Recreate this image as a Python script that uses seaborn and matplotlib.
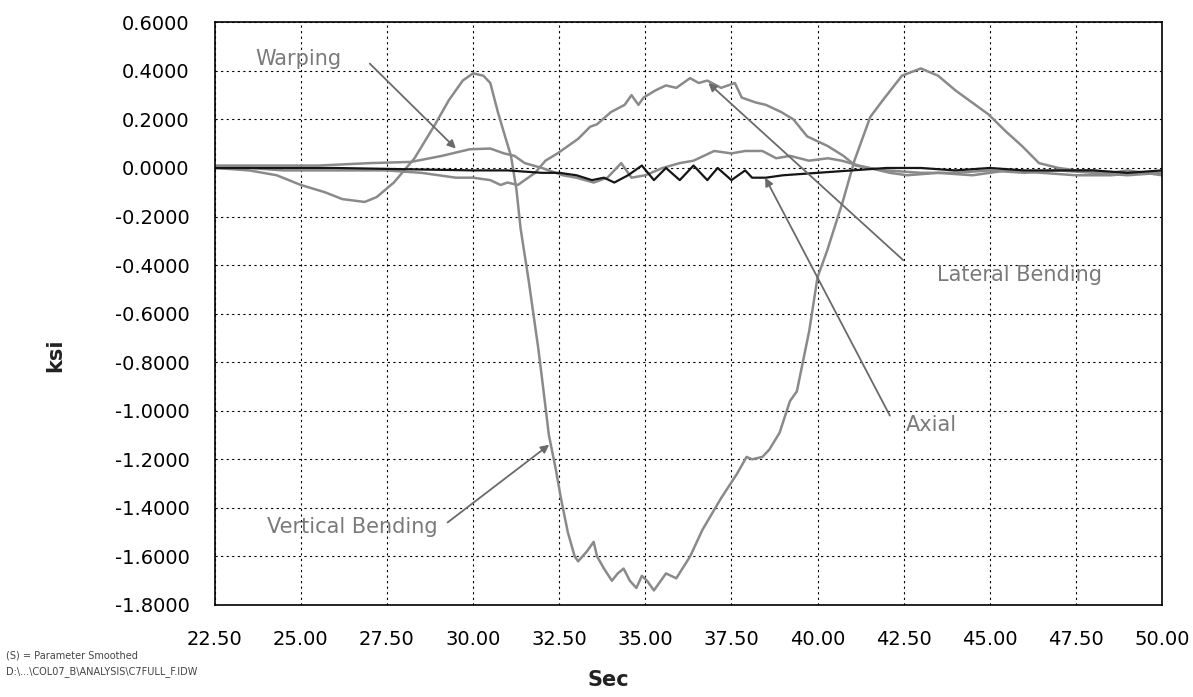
import numpy as np
import pandas as pd
import matplotlib
matplotlib.use("Agg")
import matplotlib.pyplot as plt
import seaborn as sns
from matplotlib.ticker import FormatStrFormatter, MultipleLocator

# ---------------- data ----------------
vb_x = [22.5, 23.5, 24.3, 25.0, 25.7, 26.2, 26.85, 27.2, 27.7, 28.3, 28.9, 29.3, 29.7, 30.0,
        30.3, 30.5, 30.72, 30.95, 31.1, 31.26, 31.38, 31.61, 31.89, 32.03, 32.2, 32.4, 32.55,
        32.75, 32.95, 33.05, 33.3, 33.5, 33.6, 33.8, 34.03, 34.2, 34.37, 34.55, 34.74, 34.9,
        35.05, 35.25, 35.45, 35.6, 35.9, 36.3, 36.66, 37.2, 37.66, 37.94, 38.1, 38.4, 38.6,
        38.9, 39.2, 39.4, 39.76, 40.0, 40.28, 40.73, 41.07, 41.53, 41.9, 42.45, 43.0, 43.5,
        44.0, 44.97, 45.47, 45.94, 46.43, 47.0, 47.5, 48.0, 48.5, 49.0, 49.5, 50.0]
vb_y = [0.0, -0.01, -0.03, -0.07, -0.10, -0.128, -0.14, -0.12, -0.06, 0.04, 0.18, 0.28, 0.36, 0.39,
        0.38, 0.35, 0.23, 0.12, 0.05, -0.09, -0.25, -0.46, -0.74, -0.90, -1.10, -1.24, -1.36,
        -1.50, -1.60, -1.62, -1.58, -1.54, -1.60, -1.65, -1.70, -1.67, -1.65, -1.70, -1.73, -1.68,
        -1.70, -1.74, -1.70, -1.67, -1.69, -1.60, -1.49, -1.36, -1.26, -1.19, -1.20, -1.19, -1.16,
        -1.09, -0.96, -0.92, -0.67, -0.45, -0.34, -0.14, 0.03, 0.21, 0.28, 0.38, 0.41, 0.38,
        0.32, 0.22, 0.15, 0.09, 0.02, 0.0, -0.01, -0.01, -0.02, -0.01, -0.02, -0.02]

lb_x = [22.5, 23.5, 24.5, 25.5, 26.5, 27.5, 28.5, 29.0, 29.5, 30.0, 30.5, 30.8, 31.0, 31.3, 31.5,
        31.8, 32.1, 32.45, 33.05, 33.4, 33.6, 34.0, 34.4, 34.6, 34.8, 34.95, 35.3, 35.6, 35.9,
        36.3, 36.55, 36.8, 37.2, 37.6, 37.8, 38.2, 38.5, 38.95, 39.3, 39.7, 40.3, 40.75, 41.1,
        41.5, 42.0, 43.0, 44.0, 45.0, 46.0, 47.0, 48.0, 49.0, 50.0]
lb_y = [0.0, 0.0, -0.01, -0.01, -0.01, -0.01, -0.02, -0.03, -0.04, -0.04, -0.05, -0.07, -0.06, -0.07, -0.05,
        -0.02, 0.03, 0.06, 0.12, 0.17, 0.18, 0.23, 0.26, 0.30, 0.26, 0.29, 0.32, 0.34, 0.33,
        0.37, 0.35, 0.36, 0.33, 0.35, 0.29, 0.27, 0.26, 0.23, 0.20, 0.13, 0.09, 0.05, 0.01,
        0.0, -0.01, -0.02, -0.02, -0.01, -0.02, -0.01, -0.02, -0.03, -0.02]

wp_x = [22.5, 24.0, 25.5, 27.0, 28.2, 29.1, 29.9, 30.5, 30.9, 31.2, 31.5, 32.0, 32.6, 33.0, 33.5,
        33.9, 34.3, 34.6, 35.0, 35.5, 36.0, 36.4, 37.0, 37.5, 37.9, 38.4, 38.8, 39.2, 39.75,
        40.3, 40.7, 41.2, 42.1, 42.6, 43.5, 44.5, 45.5, 46.5, 47.5, 48.5, 49.5, 50.0]
wp_y = [0.01, 0.01, 0.01, 0.02, 0.025, 0.05, 0.077, 0.08, 0.06, 0.05, 0.02, 0.0, -0.03, -0.04, -0.06,
        -0.04, 0.02, -0.04, -0.03, 0.0, 0.02, 0.03, 0.07, 0.06, 0.07, 0.07, 0.04, 0.05, 0.03,
        0.04, 0.03, 0.01, -0.02, -0.03, -0.02, -0.03, -0.01, -0.02, -0.03, -0.03, -0.02, -0.03]

ax_x = [22.5, 24.0, 26.0, 28.0, 30.0, 31.0, 32.0, 32.5, 33.0, 33.45, 33.8, 34.1, 34.5, 34.9,
        35.25, 35.6, 36.0, 36.4, 36.8, 37.1, 37.5, 37.9, 38.1, 38.5, 39.0, 40.0, 41.0, 42.0,
        43.0, 44.0, 45.0, 46.0, 47.0, 48.0, 49.0, 50.0]
ax_y = [0.0, 0.0, 0.0, -0.005, -0.01, -0.01, -0.02, -0.02, -0.03, -0.05, -0.04, -0.06, -0.03, 0.01,
        -0.05, 0.0, -0.05, 0.01, -0.05, 0.0, -0.05, -0.01, -0.04, -0.04, -0.03, -0.02, -0.01, 0.0,
        0.0, -0.01, 0.0, -0.01, -0.01, -0.01, -0.02, -0.01]

x_ticks = [22.5, 25.0, 27.5, 30.0, 32.5, 35.0, 37.5, 40.0, 42.5, 45.0, 47.5, 50.0]
y_ticks = [0.6, 0.4, 0.2, 0.0, -0.2, -0.4, -0.6, -0.8, -1.0, -1.2, -1.4, -1.6, -1.8]

# ---------------- styling ----------------
sns.set_style("white")
plt.rcParams['font.family'] = ['DejaVu Sans']
plt.rcParams['axes.unicode_minus'] = False

GRAY = "#8a8a8a"
TXT = "#7a7a7a"

fig = plt.figure(figsize=(11.93, 6.97), dpi=100)
ax = fig.add_axes([0.180, 0.132, 0.794, 0.836])

series = [
    (wp_x, wp_y, GRAY, 1.8),
    (lb_x, lb_y, GRAY, 1.8),
    (vb_x, vb_y, GRAY, 1.8),
    (ax_x, ax_y, "#151515", 1.6),
]
for xs, ys, col, lw in series:
    df = pd.DataFrame({"t": xs, "v": ys})
    sns.lineplot(data=df, x="t", y="v", ax=ax, color=col, lw=lw,
                 sort=False, estimator=None, legend=False)

ax.set_xlim(22.5, 50.0)
ax.set_ylim(-1.8, 0.6)
ax.set_xticks(x_ticks)
ax.set_yticks(y_ticks)
ax.xaxis.set_major_formatter(FormatStrFormatter('%.2f'))
ax.yaxis.set_major_formatter(FormatStrFormatter('%.4f'))
ax.grid(True, color="black", lw=0.8, linestyle=(0, (2, 3)))
for s in ax.spines.values():
    s.set_color("black")
    s.set_linewidth(1.2)
ax.tick_params(axis='both', direction='out', length=6, width=1, colors='black',
               labelsize=14, pad=12)
ax.set_xlabel("")
ax.set_ylabel("")

fig.text(0.046, 0.49, "ksi", rotation=90, ha='center', va='center', fontsize=15,
         fontweight='bold', color="#222222")
fig.text(0.51, 0.024, "Sec", ha='center', va='center', fontsize=15,
         fontweight='bold', color="#222222")
fig.text(0.005, 0.059, "(S) = Parameter Smoothed", fontsize=7, color="#444444",
         ha='left', va='center')
fig.text(0.005, 0.036, "D:\\...\\COL07_B\\ANALYSIS\\C7FULL_F.IDW", fontsize=7,
         color="#444444", ha='left', va='center')

# annotations
labels = [
    ("Warping", (24.94, 0.45), (27.0, 0.43), (29.5, 0.08)),
    ("Lateral Bending", (45.85, -0.44), (42.49, -0.38), (36.83, 0.35)),
    ("Axial", (43.3, -1.06), (42.1, -1.02), (38.48, -0.04)),
    ("Vertical Bending", (26.5, -1.48), (29.26, -1.46), (32.21, -1.14)),
]
for txt, tpos, start, end in labels:
    ax.text(tpos[0], tpos[1], txt, ha='center', va='center', fontsize=15, color=TXT)
    ax.annotate("", xy=end, xytext=start,
                arrowprops=dict(arrowstyle='-|>', color="#6a6a6a", lw=1.3,
                                mutation_scale=12, shrinkA=0, shrinkB=0))

fig.savefig("out.png", dpi=100)
